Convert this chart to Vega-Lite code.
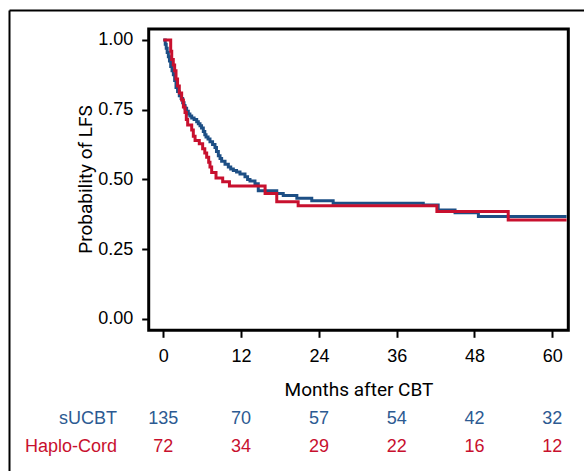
{
  "$schema": "https://vega.github.io/schema/vega-lite/v6.json",
  "width": 575,
  "height": 461,
  "autosize": {"type": "none"},
  "padding": {"left": 9, "top": 10, "right": 0, "bottom": 0},
  "config": {"view": {"stroke": null}, "font": "Liberation Sans"},
  "datasets": {
    "km": [
      {"group": "sUCBT", "month": 0, "surv": 1.0},
      {"group": "sUCBT", "month": 0.3, "surv": 0.985},
      {"group": "sUCBT", "month": 0.45, "surv": 0.97},
      {"group": "sUCBT", "month": 0.6, "surv": 0.955},
      {"group": "sUCBT", "month": 0.78, "surv": 0.94},
      {"group": "sUCBT", "month": 0.95, "surv": 0.925},
      {"group": "sUCBT", "month": 1.14, "surv": 0.905},
      {"group": "sUCBT", "month": 1.35, "surv": 0.89},
      {"group": "sUCBT", "month": 1.55, "surv": 0.875},
      {"group": "sUCBT", "month": 1.75, "surv": 0.855},
      {"group": "sUCBT", "month": 1.96, "surv": 0.83},
      {"group": "sUCBT", "month": 2.2, "surv": 0.815},
      {"group": "sUCBT", "month": 2.47, "surv": 0.8},
      {"group": "sUCBT", "month": 2.75, "surv": 0.79},
      {"group": "sUCBT", "month": 2.99, "surv": 0.775},
      {"group": "sUCBT", "month": 3.2, "surv": 0.765},
      {"group": "sUCBT", "month": 3.35, "surv": 0.755},
      {"group": "sUCBT", "month": 3.6, "surv": 0.745},
      {"group": "sUCBT", "month": 3.86, "surv": 0.735},
      {"group": "sUCBT", "month": 4.1, "surv": 0.728},
      {"group": "sUCBT", "month": 4.38, "surv": 0.72},
      {"group": "sUCBT", "month": 4.75, "surv": 0.715},
      {"group": "sUCBT", "month": 5.15, "surv": 0.707},
      {"group": "sUCBT", "month": 5.4, "surv": 0.7},
      {"group": "sUCBT", "month": 5.66, "surv": 0.693},
      {"group": "sUCBT", "month": 5.9, "surv": 0.685},
      {"group": "sUCBT", "month": 6.17, "surv": 0.672},
      {"group": "sUCBT", "month": 6.4, "surv": 0.66},
      {"group": "sUCBT", "month": 6.59, "surv": 0.652},
      {"group": "sUCBT", "month": 6.9, "surv": 0.645},
      {"group": "sUCBT", "month": 7.2, "surv": 0.635},
      {"group": "sUCBT", "month": 7.6, "surv": 0.625},
      {"group": "sUCBT", "month": 7.97, "surv": 0.615},
      {"group": "sUCBT", "month": 8.2, "surv": 0.6},
      {"group": "sUCBT", "month": 8.49, "surv": 0.585},
      {"group": "sUCBT", "month": 8.75, "surv": 0.575},
      {"group": "sUCBT", "month": 9.0, "surv": 0.565},
      {"group": "sUCBT", "month": 9.52, "surv": 0.555},
      {"group": "sUCBT", "month": 10.03, "surv": 0.545},
      {"group": "sUCBT", "month": 10.4, "surv": 0.538},
      {"group": "sUCBT", "month": 10.8, "surv": 0.532},
      {"group": "sUCBT", "month": 11.3, "surv": 0.527},
      {"group": "sUCBT", "month": 11.83, "surv": 0.52},
      {"group": "sUCBT", "month": 12.6, "surv": 0.51},
      {"group": "sUCBT", "month": 13.0, "surv": 0.5},
      {"group": "sUCBT", "month": 13.37, "surv": 0.495},
      {"group": "sUCBT", "month": 14.14, "surv": 0.485},
      {"group": "sUCBT", "month": 14.65, "surv": 0.46},
      {"group": "sUCBT", "month": 17.5, "surv": 0.45},
      {"group": "sUCBT", "month": 18.5, "surv": 0.443},
      {"group": "sUCBT", "month": 20.6, "surv": 0.433},
      {"group": "sUCBT", "month": 22.9, "surv": 0.424},
      {"group": "sUCBT", "month": 26.2, "surv": 0.415},
      {"group": "sUCBT", "month": 40.1, "surv": 0.409},
      {"group": "sUCBT", "month": 42.4, "surv": 0.391},
      {"group": "sUCBT", "month": 45.0, "surv": 0.381},
      {"group": "sUCBT", "month": 48.6, "surv": 0.367},
      {"group": "sUCBT", "month": 62.2, "surv": 0.367},
      {"group": "Haplo-Cord", "month": 0, "surv": 1.0},
      {"group": "Haplo-Cord", "month": 1.14, "surv": 0.96},
      {"group": "Haplo-Cord", "month": 1.3, "surv": 0.93},
      {"group": "Haplo-Cord", "month": 1.54, "surv": 0.91},
      {"group": "Haplo-Cord", "month": 1.75, "surv": 0.89},
      {"group": "Haplo-Cord", "month": 1.96, "surv": 0.86},
      {"group": "Haplo-Cord", "month": 2.2, "surv": 0.835},
      {"group": "Haplo-Cord", "month": 2.47, "surv": 0.81},
      {"group": "Haplo-Cord", "month": 2.83, "surv": 0.785},
      {"group": "Haplo-Cord", "month": 3.1, "surv": 0.76},
      {"group": "Haplo-Cord", "month": 3.35, "surv": 0.74},
      {"group": "Haplo-Cord", "month": 3.55, "surv": 0.715},
      {"group": "Haplo-Cord", "month": 3.76, "surv": 0.695},
      {"group": "Haplo-Cord", "month": 4.38, "surv": 0.677},
      {"group": "Haplo-Cord", "month": 4.63, "surv": 0.655},
      {"group": "Haplo-Cord", "month": 4.9, "surv": 0.64},
      {"group": "Haplo-Cord", "month": 5.55, "surv": 0.628},
      {"group": "Haplo-Cord", "month": 6.07, "surv": 0.61},
      {"group": "Haplo-Cord", "month": 6.4, "surv": 0.595},
      {"group": "Haplo-Cord", "month": 6.69, "surv": 0.58},
      {"group": "Haplo-Cord", "month": 7.0, "surv": 0.562},
      {"group": "Haplo-Cord", "month": 7.2, "surv": 0.545},
      {"group": "Haplo-Cord", "month": 7.46, "surv": 0.525},
      {"group": "Haplo-Cord", "month": 8.13, "surv": 0.505},
      {"group": "Haplo-Cord", "month": 9.16, "surv": 0.492},
      {"group": "Haplo-Cord", "month": 10.2, "surv": 0.477},
      {"group": "Haplo-Cord", "month": 15.7, "surv": 0.45},
      {"group": "Haplo-Cord", "month": 17.5, "surv": 0.42},
      {"group": "Haplo-Cord", "month": 20.8, "surv": 0.406},
      {"group": "Haplo-Cord", "month": 42.2, "surv": 0.385},
      {"group": "Haplo-Cord", "month": 53.2, "surv": 0.355},
      {"group": "Haplo-Cord", "month": 62.2, "surv": 0.355}
    ],
    "risk": [
      {"group": "sUCBT", "month": 0, "n": 135},
      {"group": "sUCBT", "month": 12, "n": 70},
      {"group": "sUCBT", "month": 24, "n": 57},
      {"group": "sUCBT", "month": 36, "n": 54},
      {"group": "sUCBT", "month": 48, "n": 42},
      {"group": "sUCBT", "month": 60, "n": 32},
      {"group": "Haplo-Cord", "month": 0, "n": 72},
      {"group": "Haplo-Cord", "month": 12, "n": 34},
      {"group": "Haplo-Cord", "month": 24, "n": 29},
      {"group": "Haplo-Cord", "month": 36, "n": 22},
      {"group": "Haplo-Cord", "month": 48, "n": 16},
      {"group": "Haplo-Cord", "month": 60, "n": 12}
    ]
  },
  "layer": [
    {
      "data": {"values": [{}]},
      "mark": {"type": "rect", "fillOpacity": 0, "stroke": "black", "strokeWidth": 3},
      "encoding": {
        "x": {"datum": -2.25, "type": "quantitative",
          "scale": {"domain": [-23.8, 64.89], "nice": false, "zero": false},
          "axis": {"orient": "top", "offset": 0, "domain": true, "domainColor": "black", "domainWidth": 2, "ticks": false, "labels": false, "grid": false, "title": null}},
        "x2": {"datum": 62.47},
        "y": {"datum": 1.0394, "type": "quantitative",
          "scale": {"domain": [-0.5448, 1.1075], "nice": false, "zero": false},
          "axis": {"orient": "left", "offset": 0, "domain": true, "domainColor": "black", "domainWidth": 2, "ticks": false, "labels": false, "grid": false, "title": null}},
        "y2": {"datum": -0.0405}
      }
    },
    {
      "data": {"name": "km"},
      "mark": {"type": "line", "interpolate": "step-after", "strokeWidth": 3},
      "encoding": {
        "x": {"field": "month", "type": "quantitative",
          "scale": {"domain": [-23.8, 64.89], "nice": false, "zero": false},
          "axis": {"orient": "bottom", "offset": -140.7, "values": [0, 12, 24, 36, 48, 60], "domain": false, "grid": false,
            "tickSize": 7, "tickWidth": 2, "tickColor": "black",
            "labelFont": "Liberation Sans", "labelFontSize": 18, "labelColor": "black", "labelPadding": 10,
            "title": "Months after CBT", "titleFont": "Roboto", "titleFontSize": 19, "titleFontWeight": "normal", "titleColor": "black",
            "titleX": 349.5, "titleY": 65, "titleBaseline": "alphabetic", "titleAlign": "center"}},
        "y": {"field": "surv", "type": "quantitative",
          "scale": {"domain": [-0.5448, 1.1075], "nice": false, "zero": false},
          "axis": {"orient": "left", "offset": -139.7, "values": [0, 0.25, 0.5, 0.75, 1], "format": ".2f", "domain": false, "grid": false,
            "tickSize": 7, "tickWidth": 2, "tickColor": "black",
            "labelFont": "Liberation Sans", "labelFontSize": 18, "labelColor": "black", "labelPadding": 9,
            "title": "Probability of LFS", "titleFont": "Roboto", "titleFontSize": 19, "titleFontWeight": "normal", "titleColor": "black",
            "titleX": -57, "titleY": 169, "titleAngle": -90, "titleBaseline": "alphabetic", "titleAlign": "center"}},
        "color": {"field": "group", "type": "nominal",
          "scale": {"domain": ["sUCBT", "Haplo-Cord"], "range": ["#1d4f85", "#c8102e"]}, "legend": null}
      }
    },
    {
      "data": {"name": "risk"},
      "transform": [{"filter": "datum.group === 'sUCBT'"}],
      "mark": {"type": "text", "font": "Liberation Sans", "fontSize": 18, "color": "#2c5a92", "baseline": "middle", "align": "center"},
      "encoding": {
        "x": {"field": "month", "type": "quantitative", "axis": null},
        "y": {"datum": -0.3584, "type": "quantitative", "axis": null},
        "text": {"field": "n", "type": "quantitative"}
      }
    },
    {
      "data": {"name": "risk"},
      "transform": [{"filter": "datum.group === 'Haplo-Cord'"}],
      "mark": {"type": "text", "font": "Liberation Sans", "fontSize": 18, "color": "#c8102e", "baseline": "middle", "align": "center"},
      "encoding": {
        "x": {"field": "month", "type": "quantitative", "axis": null},
        "y": {"datum": -0.4588, "type": "quantitative", "axis": null},
        "text": {"field": "n", "type": "quantitative"}
      }
    },
    {
      "data": {"values": [{}]},
      "mark": {"type": "text", "font": "Liberation Sans", "fontSize": 18, "color": "#2c5a92", "baseline": "middle", "align": "right"},
      "encoding": {
        "x": {"datum": -7.14, "type": "quantitative", "axis": null},
        "y": {"datum": -0.3584, "type": "quantitative", "axis": null},
        "text": {"value": "sUCBT"}
      }
    },
    {
      "data": {"values": [{}]},
      "mark": {"type": "text", "font": "Liberation Sans", "fontSize": 18, "color": "#c8102e", "baseline": "middle", "align": "right"},
      "encoding": {
        "x": {"datum": -7.14, "type": "quantitative", "axis": null},
        "y": {"datum": -0.4588, "type": "quantitative", "axis": null},
        "text": {"value": "Haplo-Cord"}
      }
    }
  ],
  "resolve": {"axis": {"x": "independent", "y": "independent"}}
}
